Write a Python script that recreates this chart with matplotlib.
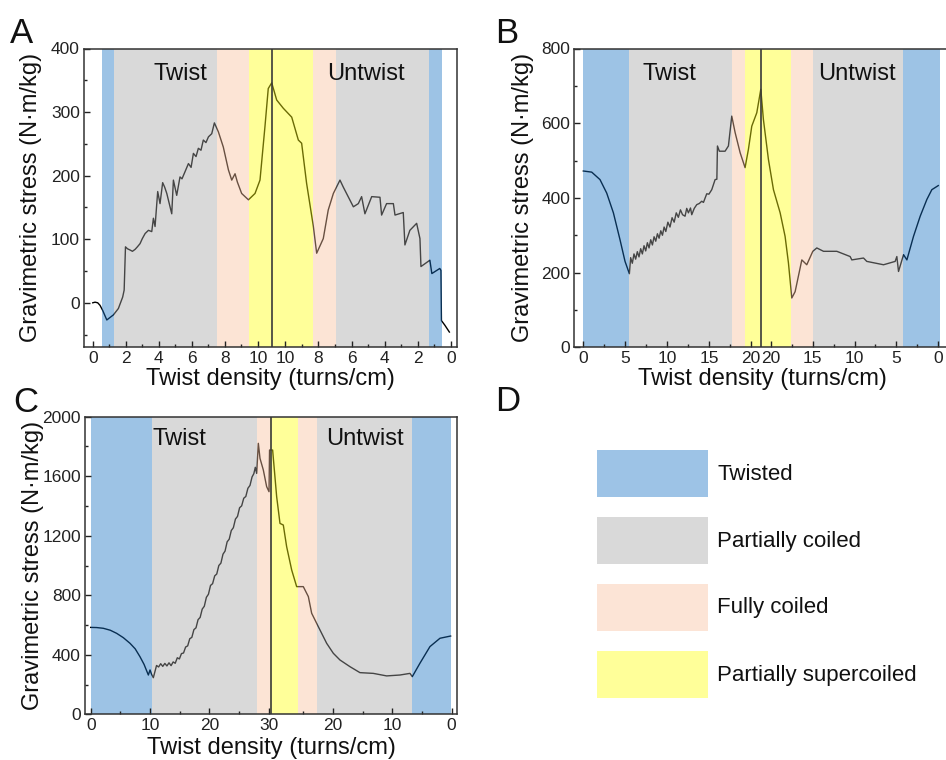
import matplotlib.pyplot as plt
import numpy as np
from matplotlib.ticker import MultipleLocator, FixedLocator, FixedFormatter
from matplotlib.patches import Rectangle

plt.rcParams["font.family"] = ["Liberation Sans", "DejaVu Sans"]

W, H = 946, 760

stage_names = ["Twisted", "Partially coiled", "Fully coiled", "Partially supercoiled"]
stage_colors = ["#9DC3E6", "#D9D9D9", "#FCE4D6", "#FFFF99"]

# ---- panel A (twist up to the peak, then untwist back to 0) ----
a_peak = 10.83
a_twist_x = [0, 0.14, 0.3, 0.44, 0.6, 0.85, 1.05, 1.25, 1.55, 1.81, 1.9, 1.98, 2.1, 2.26, 2.4,
             2.56, 2.7, 2.86, 3.0, 3.17, 3.37, 3.57, 3.67, 3.77, 3.93, 4.07, 4.23, 4.35, 4.48,
             4.78, 4.88, 5.08, 5.28, 5.4, 5.58, 5.79, 5.95, 6.09, 6.25, 6.39, 6.55, 6.69, 6.85,
             7.0, 7.2, 7.36, 7.6, 7.9, 8.21, 8.41, 8.61, 8.75, 9.01, 9.42, 9.82, 10.12, 10.42,
             10.62, 10.83]
a_twist_y = [0, 1, 0, -4, -12, -27, -23, -19, -9, 9, 20, 88, 85, 83, 81, 84, 88, 93, 101, 109,
             114, 112, 133, 120, 175, 156, 189, 182, 172, 140, 193, 169, 198, 195, 206, 219, 213,
             235, 230, 243, 240, 256, 252, 261, 266, 283, 269, 245, 209, 193, 203, 190, 172,
             162, 172, 193, 277, 337, 346]
a_untwist_x = [10.53, 10.13, 9.62, 9.22, 9.02, 8.72, 8.31, 8.11, 7.71, 7.41, 7.10, 6.70, 6.50,
               5.89, 5.59, 5.39, 5.19, 4.78, 4.28, 4.18, 3.88, 3.47, 3.37, 2.87, 2.77, 2.47,
               2.06, 1.86, 1.80, 1.26, 1.14, 0.66, 0.59, 0.56, 0.36, 0.08]
a_untwist_y = [319, 306, 292, 256, 251, 188, 120, 78, 101, 146, 172, 193, 182, 151, 156, 167,
               140, 167, 166, 138, 156, 156, 138, 142, 91, 114, 125, 101, 57, 67, 46, 54, 51,
               -28, -35, -46]
a_twist_edges = [0.55, 1.31, 7.5, 9.43, a_peak]
a_twist_stages = [0, 1, 2, 3]
a_untwist_edges = [a_peak, 8.33, 6.92, 1.32, 0.51]
a_untwist_stages = [3, 2, 1, 0]
a_twist_ticks = [0, 2, 4, 6, 8, 10]
a_untwist_ticks = [10, 8, 6, 4, 2, 0]
a_minor = [1, 3, 5, 7, 9]

# ---- panel B ----
b_peak = 21.2
b_twist_x = [0, 1.0, 1.99, 2.79, 3.59, 4.38, 4.98, 5.5, 5.65, 5.85, 6.05, 6.25, 6.45, 6.65,
             6.85, 7.05, 7.25, 7.45, 7.65, 7.85, 8.05, 8.25, 8.45, 8.65, 8.85, 9.05, 9.25,
             9.45, 9.65, 9.85, 10.1, 10.35, 10.6, 10.85, 11.1, 11.35, 11.6, 11.85, 12.15,
             12.35, 12.55, 12.8, 12.95, 13.25, 13.55, 13.85, 14.14, 14.35, 14.74, 15.0, 15.34,
             15.74, 15.95, 16.02, 16.25, 16.93, 17.33, 17.73, 18.13, 18.73, 19.32, 19.72,
             20.12, 20.72, 21.2]
b_twist_y = [472, 469, 449, 413, 360, 288, 230, 197, 240, 225, 250, 236, 256, 242, 264, 250,
             272, 258, 280, 266, 288, 274, 296, 284, 304, 292, 312, 300, 322, 310, 335, 322,
             347, 335, 360, 348, 368, 355, 351, 372, 360, 373, 355, 372, 382, 385, 391, 388,
             411, 410, 422, 449, 450, 539, 525, 525, 539, 619, 575, 521, 481, 530, 592, 628,
             691]
b_untwist_x = [20.89, 20.29, 19.69, 18.89, 18.3, 17.9, 17.5, 17.1, 16.3, 15.71, 14.99, 14.51,
               13.71, 12.12, 10.53, 10.33, 8.93, 8.54, 6.54, 5.15, 4.95, 4.75, 4.15, 3.75,
               2.96, 2.16, 1.36, 0.77, 0.0]
b_untwist_y = [610, 503, 422, 360, 297, 226, 132, 149, 234, 221, 257, 266, 257, 257, 243, 234,
               239, 230, 221, 230, 243, 203, 248, 234, 297, 351, 396, 422, 433]
b_twist_edges = [0, 5.5, 17.8, 19.36, b_peak]
b_twist_stages = [0, 1, 2, 3]
b_untwist_edges = [b_peak, 17.62, 14.99, 4.27, -0.2]
b_untwist_stages = [3, 2, 1, 0]
b_twist_ticks = [0, 5, 10, 15, 20]
b_untwist_ticks = [20, 15, 10, 5, 0]
b_minor = [2.5, 7.5, 12.5, 17.5]

# ---- panel C ----
c_peak = 30.42
c_twist_x = [0, 1.0, 2.13, 3.3, 4.38, 5.5, 6.63, 7.5, 8.31, 9.0, 9.72, 10.0, 10.25, 10.56,
             11.1, 11.45, 11.8, 12.15, 12.5, 12.85, 13.2, 13.55, 13.9, 14.25, 14.6, 14.95,
             15.3, 15.65, 16.0, 16.35, 16.7, 17.05, 17.4, 17.75, 18.1, 18.45, 18.8, 19.15,
             19.5, 19.85, 20.2, 20.55, 20.9, 21.25, 21.6, 21.95, 22.3, 22.65, 23.0, 23.35,
             23.7, 24.05, 24.4, 24.75, 25.1, 25.45, 25.8, 26.15, 26.5, 26.85, 27.2, 27.5,
             27.75, 27.98, 28.26, 28.54, 29.1, 29.66, 30.06, 30.15]
c_twist_y = [584, 583, 578, 565, 544, 515, 477, 440, 387, 335, 264, 298, 270, 246, 328, 318,
             340, 322, 342, 325, 346, 327, 352, 343, 380, 372, 408, 412, 452, 460, 508, 517,
             569, 581, 636, 651, 707, 726, 786, 807, 866, 878, 930, 943, 1000, 1016, 1076,
             1097, 1159, 1177, 1235, 1254, 1312, 1330, 1388, 1401, 1452, 1464, 1519, 1538,
             1595, 1617, 1660, 1619, 1821, 1720, 1642, 1530, 1496, 1776]
c_untwist_x = [30.42, 30.17, 29.49, 28.93, 28.37, 27.81, 26.96, 26.12, 25.0, 24.15, 23.59,
               22.47, 21.06, 19.94, 18.82, 17.13, 15.45, 13.2, 10.95, 8.71, 7.02, 6.63, 5.34,
               3.65, 1.96, 0.17]
c_untwist_y = [1776, 1776, 1462, 1283, 1272, 1127, 970, 858, 858, 791, 679, 589, 477, 410,
               365, 320, 280, 275, 258, 264, 275, 253, 343, 455, 511, 526]
c_twist_edges = [0, 10.39, 27.98, 30.22, c_peak]
c_twist_stages = [0, 1, 2, 3]
c_untwist_edges = [c_peak, 25.95, 22.64, 6.64, 0.17]
c_untwist_stages = [3, 2, 1, 0]
c_twist_ticks = [0, 10, 20, 30]
c_untwist_ticks = [20, 10, 0]
c_minor = [5, 15, 25]

# bands are laid over the curve semi-transparently so the curve takes on the band tint
band_alpha = 0.42
band_rgb = []
for c in stage_colors:
    rgb = np.array([int(c[i:i + 2], 16) for i in (1, 3, 5)]) / 255.0
    band_rgb.append(tuple(np.clip((rgb - (1 - band_alpha)) / band_alpha, 0, 1)))

fig = plt.figure(figsize=(W / 100, H / 100), dpi=100)


def px_axes(left, top, right, bottom):
    return fig.add_axes([left / W, 1 - bottom / H, (right - left) / W, (bottom - top) / H])


def draw_panel(ax, peak, tx, ty, ux, uy, tedges, tstages, uedges, ustages,
               tticks, uticks, minor, xlim, ylim, ymajor, yminor, ylab_x, xlab_y,
               twist_pos, untwist_pos):
    path = np.concatenate([np.asarray(tx, float), 2 * peak - np.asarray(ux, float)])
    vals = np.concatenate([ty, uy])
    ax.plot(path, vals, color="black", lw=1.0, zorder=1)
    for i, s in enumerate(tstages):
        ax.axvspan(tedges[i], tedges[i + 1], color=band_rgb[s], alpha=band_alpha,
                   lw=0, zorder=1.5)
    for i, s in enumerate(ustages):
        ax.axvspan(2 * peak - uedges[i], 2 * peak - uedges[i + 1], color=band_rgb[s],
                   alpha=band_alpha, lw=0, zorder=1.5)
    ax.axvline(peak, color="#3a3a3a", lw=1.2, zorder=2)

    ax.set_xlim(*xlim)
    ax.set_ylim(*ylim)
    pos = list(tticks) + [2 * peak - t for t in uticks]
    labs = [str(t) for t in tticks] + [str(t) for t in uticks]
    ax.xaxis.set_major_locator(FixedLocator(pos))
    ax.xaxis.set_major_formatter(FixedFormatter(labs))
    ax.xaxis.set_minor_locator(FixedLocator(list(minor) + [2 * peak - m for m in minor]))
    ax.yaxis.set_major_locator(MultipleLocator(ymajor))
    ax.yaxis.set_minor_locator(MultipleLocator(yminor))
    ax.tick_params(which="both", direction="in", width=1.0, colors="#222222", labelsize=12.5)
    ax.tick_params(which="major", length=4, pad=3)
    ax.tick_params(which="minor", length=2.5)
    for sp in ax.spines.values():
        sp.set_color("#333333")
        sp.set_linewidth(1.1)

    ax.set_ylabel("Gravimetric stress (N·m/kg)", fontsize=17, color="#111111")
    ax.yaxis.set_label_coords(ylab_x, 0.5)
    ax.set_xlabel("Twist density (turns/cm)", fontsize=17, color="#111111", va="top")
    ax.xaxis.set_label_coords(0.5, xlab_y)

    ax.text(twist_pos[0], twist_pos[1], "Twist", transform=ax.transAxes, fontsize=17,
            ha="center", va="center", color="#111111", zorder=4)
    ax.text(untwist_pos[0], untwist_pos[1], "Untwist", transform=ax.transAxes, fontsize=17,
            ha="center", va="center", color="#111111", zorder=4)


axA = px_axes(84, 48.5, 457.3, 347.3)
draw_panel(axA, a_peak, a_twist_x, a_twist_y, a_untwist_x, a_untwist_y,
           a_twist_edges, a_twist_stages, a_untwist_edges, a_untwist_stages,
           a_twist_ticks, a_untwist_ticks, a_minor, (-0.53, 22.06), (-70, 400), 100, 50,
           -0.113, -0.068, (0.257, 0.916), (0.755, 0.916))

axB = px_axes(574.3, 48.5, 950, 347.3)
draw_panel(axB, b_peak, b_twist_x, b_twist_y, b_untwist_x, b_untwist_y,
           b_twist_edges, b_twist_stages, b_untwist_edges, b_untwist_stages,
           b_twist_ticks, b_untwist_ticks, b_minor, (-1.08, 43.8), (0, 800), 200, 100,
           -0.107, -0.068, (0.2526, 0.916), (0.752, 0.916))

axC = px_axes(85, 416.7, 457.3, 714.3)
draw_panel(axC, c_peak, c_twist_x, c_twist_y, c_untwist_x, c_untwist_y,
           c_twist_edges, c_twist_stages, c_untwist_edges, c_untwist_stages,
           c_twist_ticks, c_untwist_ticks, c_minor, (-0.96, 61.8), (0, 2000), 400, 200,
           -0.110, -0.075, (0.255, 0.924), (0.753, 0.924))

# ---- panel D: stage key ----
for i, (name, col) in enumerate(zip(stage_names, stage_colors)):
    top = 450 + i * 67
    fig.add_artist(Rectangle((597 / W, 1 - (top + 47) / H), 111 / W, 47 / H,
                             transform=fig.transFigure, facecolor=col, edgecolor="none"))
    fig.text(717 / W, 1 - (top + 24) / H, name, fontsize=16, va="center", ha="left",
             color="#111111")

for letter, x, y in [("A", 10, 17), ("B", 495, 17), ("C", 13, 386), ("D", 495, 385)]:
    fig.text(x / W, 1 - y / H, letter, fontsize=25, va="top", ha="left", color="#111111")

fig.savefig("out.png", dpi=100)
